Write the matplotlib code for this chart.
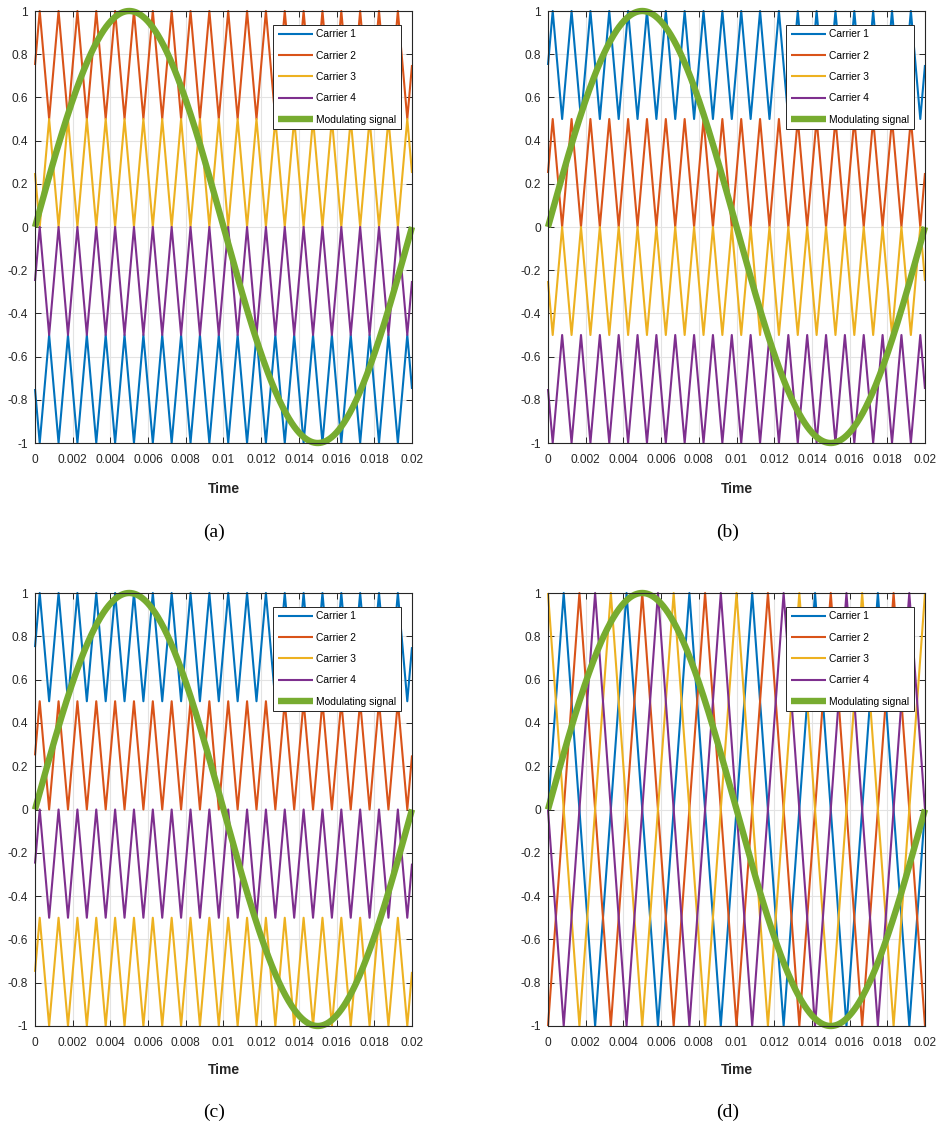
import numpy as np
import matplotlib
matplotlib.use('Agg')
import matplotlib.pyplot as plt
from matplotlib import font_manager

# Fonter: smal Helvetica-lignende for akser, serif for underteksten
navn = {f.name for f in font_manager.fontManager.ttflist}
smal = 'Liberation Sans Narrow' in navn
sans = 'Liberation Sans Narrow' if smal else 'Liberation Sans'
plt.rcParams['font.family'] = [sans, 'DejaVu Sans']
skala = 1.2 if smal else 1.0

# Data lest fra figuren
t_slutt = 0.02
f_mod = 50          # Hz, modulerende signal
mod_amp = 1.0
f_bærer = [1000, 1000, 1000, 300]   # Hz, bærebølge per delfigur

etiketter = ['Carrier 1', 'Carrier 2', 'Carrier 3', 'Carrier 4']
farger = ['#0072BD', '#D95319', '#EDB120', '#7E2F8E']
grønn = '#77AC30'

# Bånd (lav, høy) for hver bærer og startfase (andel av periode)
bånd_a = [(-1, -0.5), (0.5, 1), (0, 0.5), (-0.5, 0)]
fase_a = [0.5, 0.0, 0.5, 0.0]
bånd_b = [(0.5, 1), (0, 0.5), (-0.5, 0), (-1, -0.5)]
fase_b = [0.0, 0.0, 0.5, 0.5]
bånd_c = [(0.5, 1), (0, 0.5), (-1, -0.5), (-0.5, 0)]
fase_c = [0.0, 0.0, 0.0, 0.0]
bånd_d = [(-1, 1), (-1, 1), (-1, 1), (-1, 1)]
fase_d = [0.0, 0.75, 0.25, 0.5]

paneler = [(bånd_a, fase_a), (bånd_b, fase_b), (bånd_c, fase_c), (bånd_d, fase_d)]
bokstaver = ['(a)', '(b)', '(c)', '(d)']

x_ticks = [0, 0.002, 0.004, 0.006, 0.008, 0.01, 0.012, 0.014, 0.016, 0.018, 0.02]
y_ticks = [-1, -0.8, -0.6, -0.4, -0.2, 0, 0.2, 0.4, 0.6, 0.8, 1]


def tri(p):
    p = p % 1.0
    if p < 0.25:
        return 4 * p
    if p < 0.75:
        return 2 - 4 * p
    return 4 * p - 4


def bærer(f, fase, lav, høy):
    # hjørnepunkter for trekantbølgen
    tider = [0.0]
    k = 0
    while True:
        tk = (0.25 + 0.5 * k - fase) / f
        if tk > t_slutt:
            break
        if tk > 0:
            tider.append(tk)
        k += 1
    tider.append(t_slutt)
    tider = np.array(tider)
    verdier = np.array([tri(f * t + fase) for t in tider])
    return tider, lav + (høy - lav) * (verdier + 1) / 2


W, H = 937, 1130
fig = plt.figure(figsize=(W / 100, H / 100), dpi=100)

posisjoner = [(35, 11, 377, 432), (548, 11, 377, 432),
              (35, 593, 377, 433), (548, 593, 377, 433)]

t_mod = np.linspace(0, t_slutt, 600)
modulerende = mod_amp * np.sin(2 * np.pi * f_mod * t_mod)

for i, ((bånd, fase), (x0, y0, w, h)) in enumerate(zip(paneler, posisjoner)):
    ax = fig.add_axes([x0 / W, 1 - (y0 + h) / H, w / W, h / H])
    for j in range(4):
        tt, yy = bærer(f_bærer[i], fase[j], *bånd[j])
        ax.plot(tt, yy, color=farger[j], lw=1.5, label=etiketter[j],
                clip_on=False, solid_capstyle='butt')
    ax.plot(t_mod, modulerende, color=grønn, lw=4.6, label='Modulating signal',
            clip_on=False, solid_capstyle='butt')

    ax.set_xlim(0, t_slutt)
    ax.set_ylim(-1, 1)
    ax.set_xticks(x_ticks)
    ax.set_xticklabels([f'{v:g}' for v in x_ticks])
    ax.set_yticks(y_ticks)
    ax.set_yticklabels([f'{v:g}' for v in y_ticks])
    ax.tick_params(direction='in', length=4, width=0.7, top=True, right=True,
                   colors='#262626', labelsize=8.6 * skala)
    ax.tick_params(axis='x', pad=8)
    ax.tick_params(axis='y', pad=5)
    ax.grid(True, color='#e3e3e3', lw=0.8)
    ax.set_axisbelow(True)
    for s in ax.spines.values():
        s.set_color('#262626')
        s.set_linewidth(0.8)

    leg = ax.legend(loc='upper right', bbox_to_anchor=(0.97, 0.968), borderaxespad=0,
                    fontsize=7.4 * skala, handlelength=3.4, handletextpad=0.3,
                    labelspacing=1.1, borderpad=0.45, fancybox=False, framealpha=1,
                    edgecolor='#262626')
    leg.get_frame().set_linewidth(0.7)

    cx = (x0 + w / 2) / W
    ty = 489 if i < 2 else 1070
    fig.text(cx, 1 - ty / H, 'Time', ha='center', va='center', fontsize=10 * skala,
             fontweight='bold', color='#262626')
    ky = 532 if i < 2 else 1112
    fig.text((x0 + w / 2 - 9) / W, 1 - ky / H, bokstaver[i], ha='center', va='center',
             fontsize=14, family='Liberation Serif')

fig.savefig('out.png', dpi=100)
